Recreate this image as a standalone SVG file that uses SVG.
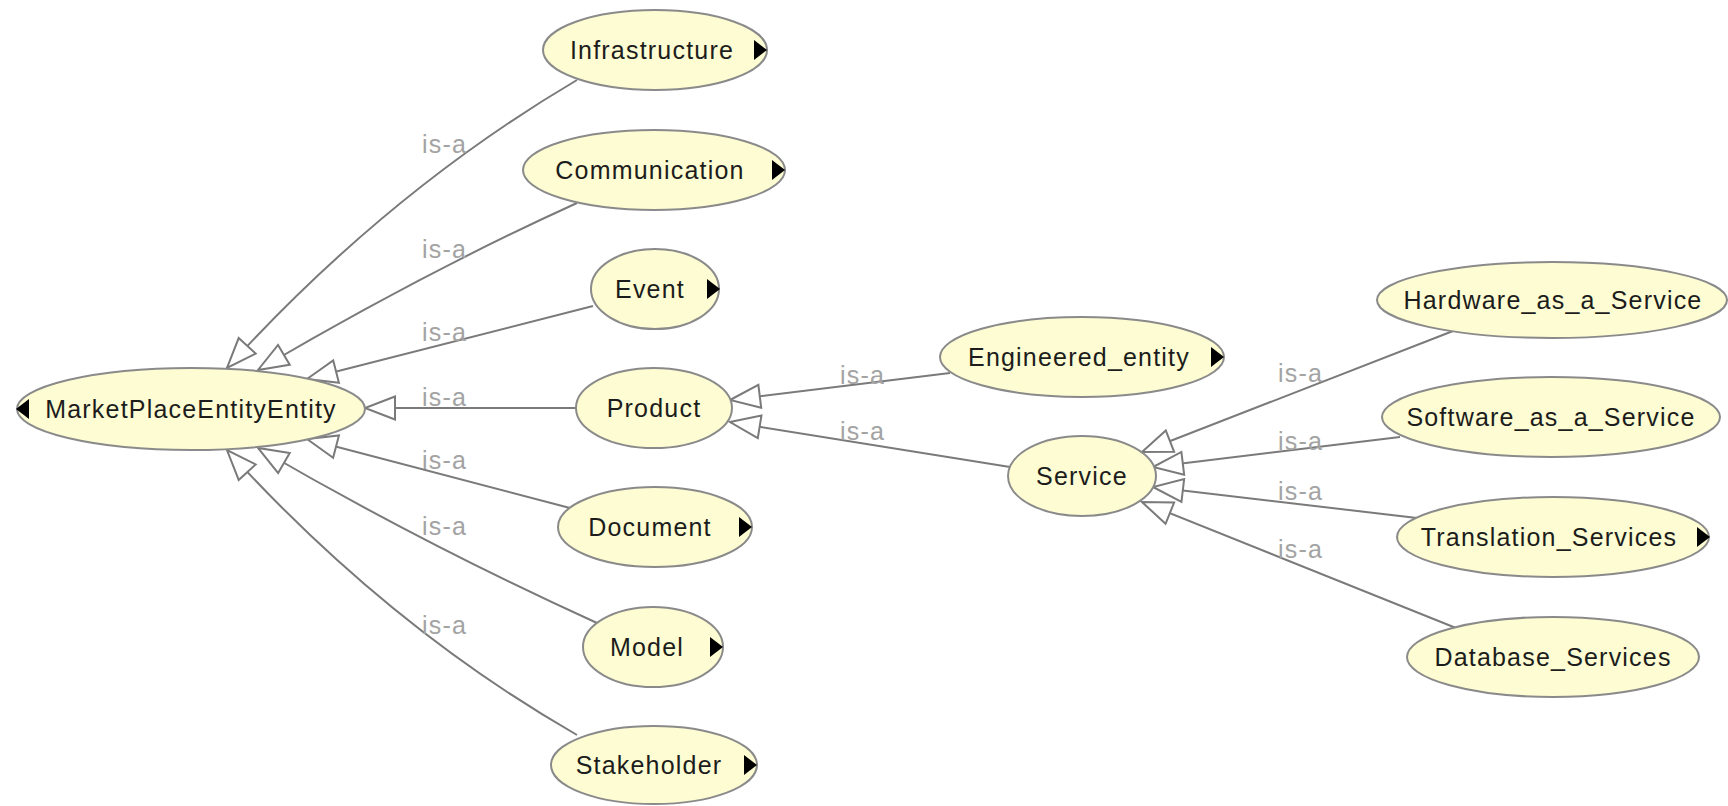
<svg xmlns="http://www.w3.org/2000/svg" width="1728" height="806" viewBox="0 0 1728 806">
<style>
.node ellipse{fill:#fdfcd2;stroke:#8a8a8a;stroke-width:2}
.node text{font-family:"Liberation Sans",Arial,sans-serif;font-size:25px;letter-spacing:1.2px;fill:#1c1c1c;text-anchor:middle}
.node polygon{fill:#000}
.edges path{fill:none;stroke:#7a7a7a;stroke-width:2;marker-end:url(#tri)}
.edges text{font-family:"Liberation Sans",Arial,sans-serif;font-size:25px;letter-spacing:1.2px;fill:#a3a3a3}
</style>
<defs>
<marker id="tri" markerUnits="userSpaceOnUse" markerWidth="34" markerHeight="27" refX="30" refY="11.5" orient="auto" overflow="visible">
<path d="M0,0 L30,11.5 L0,23 Z" fill="#fff" stroke="#7a7a7a" stroke-width="2"/>
</marker>
</defs>
<rect width="1728" height="806" fill="#fff"/>
<g id="connectors" class="edges">
<path d="M577,80 Q387,192 227,368"/>
<path d="M577,203 Q425,272 258,370"/>
<path d="M593,306 L307,379"/>
<path d="M576,408 L365,408"/>
<path d="M570,508 L307,439"/>
<path d="M597,623 Q425,545 258,448"/>
<path d="M577,735 Q387,626 227,450"/>
<path d="M950,373 L730,400"/>
<path d="M1010,467 L730,422"/>
<path d="M1453,331 L1142,452"/>
<path d="M1400,437 L1153,467"/>
<path d="M1417,518 L1153,487"/>
<path d="M1456,628 L1142,502"/>
<text x="422" y="153">is-a</text>
<text x="422" y="258">is-a</text>
<text x="422" y="341">is-a</text>
<text x="422" y="406">is-a</text>
<text x="422" y="469">is-a</text>
<text x="422" y="535">is-a</text>
<text x="422" y="634">is-a</text>
<text x="840" y="384">is-a</text>
<text x="840" y="440">is-a</text>
<text x="1278" y="382">is-a</text>
<text x="1278" y="450">is-a</text>
<text x="1278" y="500">is-a</text>
<text x="1278" y="558">is-a</text>
</g>
<g id="MarketPlaceEntityEntity" class="node"><ellipse cx="191" cy="409" rx="174" ry="41"/><polygon points="29,399 16,409 29,419"/><text x="191" y="418">MarketPlaceEntityEntity</text></g>
<g id="Infrastructure" class="node"><ellipse cx="655" cy="50" rx="112" ry="40"/><polygon points="754,40 767,50 754,60"/><text x="652" y="59">Infrastructure</text></g>
<g id="Communication" class="node"><ellipse cx="654" cy="170" rx="131" ry="40"/><polygon points="772,160 785,170 772,180"/><text x="650" y="179">Communication</text></g>
<g id="Event" class="node"><ellipse cx="655" cy="289" rx="64" ry="40"/><polygon points="707,279 720,289 707,299"/><text x="650" y="298">Event</text></g>
<g id="Product" class="node"><ellipse cx="654" cy="408" rx="78" ry="40"/><text x="654" y="417">Product</text></g>
<g id="Document" class="node"><ellipse cx="655" cy="527" rx="97" ry="40"/><polygon points="739,517 752,527 739,537"/><text x="650" y="536">Document</text></g>
<g id="Model" class="node"><ellipse cx="653" cy="647" rx="70" ry="40"/><polygon points="710,637 723,647 710,657"/><text x="647" y="656">Model</text></g>
<g id="Stakeholder" class="node"><ellipse cx="654" cy="765" rx="103" ry="39"/><polygon points="744,755 757,765 744,775"/><text x="649" y="774">Stakeholder</text></g>
<g id="Engineered_entity" class="node"><ellipse cx="1082" cy="357" rx="142" ry="40"/><polygon points="1211,347 1224,357 1211,367"/><text x="1079" y="366">Engineered_entity</text></g>
<g id="Service" class="node"><ellipse cx="1082" cy="476" rx="74" ry="40"/><text x="1082" y="485">Service</text></g>
<g id="Hardware_as_a_Service" class="node"><ellipse cx="1552" cy="300" rx="175" ry="38"/><text x="1553" y="309">Hardware_as_a_Service</text></g>
<g id="Software_as_a_Service" class="node"><ellipse cx="1551" cy="417" rx="169" ry="40"/><text x="1551" y="426">Software_as_a_Service</text></g>
<g id="Translation_Services" class="node"><ellipse cx="1553" cy="537" rx="156" ry="40"/><polygon points="1697,527 1710,537 1697,547"/><text x="1549" y="546">Translation_Services</text></g>
<g id="Database_Services" class="node"><ellipse cx="1553" cy="657" rx="146" ry="40"/><text x="1553" y="666">Database_Services</text></g>
</svg>
